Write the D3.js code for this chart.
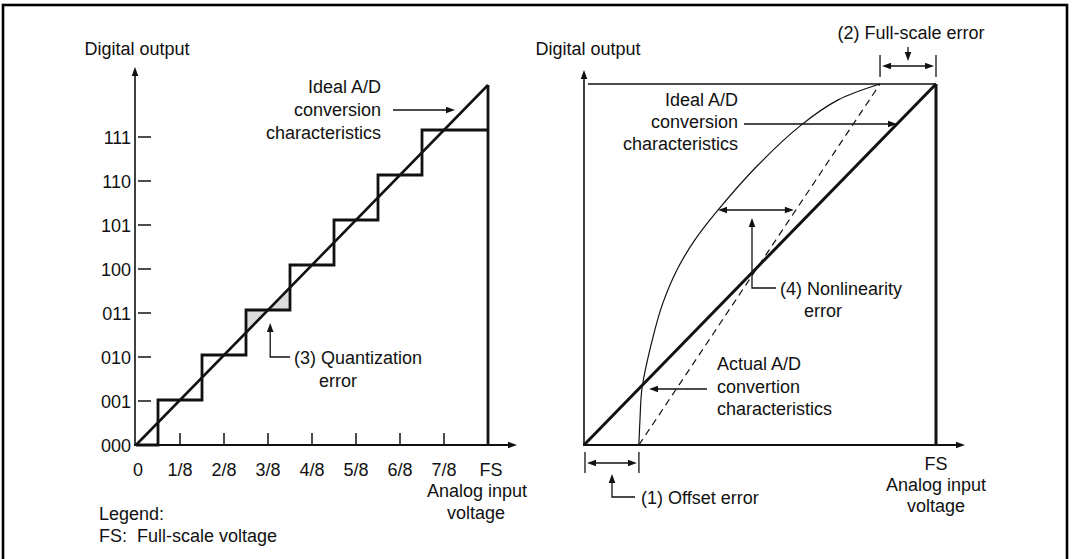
<!DOCTYPE html>
<html><head><meta charset="utf-8">
<script src="https://cdn.jsdelivr.net/npm/d3@7"></script>
<style>
body{margin:0;background:#fff}
svg text{font-family:"Liberation Sans",Arial,Helvetica,sans-serif;font-size:18px;fill:#111;white-space:pre}
</style>
</head><body><svg id="c" width="1074" height="559"></svg>
<script>
// ---------- data ----------
const codeLabels = ["000","001","010","011","100","101","110","111"];
const codeValues = [0,1,2,3,4,5,6,7];
const xTickLabels = ["0","1/8","2/8","3/8","4/8","5/8","6/8","7/8","FS"];
const xTickValues = [0,1,2,3,4,5,6,7,8];
const stepStart = [0.5,1.5,2.5,3.5,4.5,5.5,6.5];
const stepEnd   = [1.5,2.5,3.5,4.5,5.5,6.5,8];
const stepCode  = [1,2,3,4,5,6,7];
const idealLeftX = [0,8];
const idealLeftY = [0,8];
const quantTriX = [[2.5,2.5,3],[3,3.5,3.5]];
const quantTriY = [[2.5,3,3],[3,3,3.5]];

const idealRightX = [0,1];
const idealRightY = [0,1];
const actualX = [0.156,0.159,0.165,0.196,0.224,0.264,0.315,0.381,0.489,0.614,0.722,0.841];
const actualY = [0,0.069,0.158,0.299,0.393,0.485,0.568,0.651,0.770,0.884,0.956,1.0];
const offsetError = 0.156;
const fullScaleReach = 0.841;

// ---------- setup ----------
const svg = d3.select("#c");
svg.append("rect").attr("x",3).attr("y",5).attr("width",1064).attr("height",600)
  .attr("fill","none").attr("stroke","#000").attr("stroke-width",2.6);

const xL = d3.scaleLinear([0,8],[136,488]);
const yL = d3.scaleLinear([0,8],[445,85]);
const yLt = d3.scaleLinear([0,8],[445,93]);
const xR = d3.scaleLinear([0,1],[584,936]);
const yR = d3.scaleLinear([0,1],[445,84]);

function head(g,x,y,ang,len=9,half=3.3){
  const c=Math.cos(ang), s=Math.sin(ang);
  const bx=x-len*c, by=y-len*s;
  g.append("path").attr("d",`M${x},${y}L${bx-half*s},${by+half*c}L${bx+half*s},${by-half*c}Z`).attr("fill","#111");
}
function arrow(g,x1,y1,x2,y2,o={}){
  const w=o.w||1.3, st=!!o.start, en=o.end!==false;
  const ang=Math.atan2(y2-y1,x2-x1);
  const c=Math.cos(ang), s=Math.sin(ang);
  const ax1 = st? x1+6*c : x1, ay1 = st? y1+6*s : y1;
  const ax2 = en? x2-6*c : x2, ay2 = en? y2-6*s : y2;
  g.append("line").attr("x1",ax1).attr("y1",ay1).attr("x2",ax2).attr("y2",ay2)
    .attr("stroke","#111").attr("stroke-width",w);
  if(en) head(g,x2,y2,ang);
  if(st) head(g,x1,y1,ang+Math.PI);
}
function poly(g,pts,w,extra){
  const p=g.append("path").attr("d",d3.line()(pts)).attr("fill","none").attr("stroke","#111").attr("stroke-width",w).attr("stroke-linejoin","miter");
  if(extra) extra(p);
  return p;
}
function text(g,x,y,str,anchor="start"){
  return g.append("text").attr("x",x).attr("y",y).attr("text-anchor",anchor).text(str);
}

// ---------- left chart ----------
const L = svg.append("g");
quantTriX.forEach((xs,i)=>{
  const pts = xs.map((x,j)=>[xL(x),yL(quantTriY[i][j])]);
  L.append("path").attr("d",d3.line()(pts)+"Z").attr("fill","#dcdcdc").attr("stroke","none");
});
L.append("line").attr("x1",135).attr("y1",445).attr("x2",135).attr("y2",74).attr("stroke","#111").attr("stroke-width",1.6);
head(L,135,67,-Math.PI/2);
L.append("line").attr("x1",134).attr("y1",445).attr("x2",510).attr("y2",445).attr("stroke","#111").attr("stroke-width",2);
head(L,517,445,0);
L.selectAll(".yt").data(codeValues.slice(1)).join("line")
  .attr("x1",138).attr("x2",151).attr("y1",d=>yLt(d)).attr("y2",d=>yLt(d))
  .attr("stroke","#111").attr("stroke-width",1.5);
L.selectAll(".yl").data(codeValues).join("text")
  .attr("x",131).attr("y",d=>yLt(d)+6.5).attr("text-anchor","end").text(d=>codeLabels[d]);
L.selectAll(".xt").data(xTickValues.slice(1,8)).join("line")
  .attr("x1",d=>xL(d)).attr("x2",d=>xL(d)).attr("y1",433).attr("y2",445)
  .attr("stroke","#111").attr("stroke-width",1.5);
L.selectAll(".xl").data(xTickValues).join("text")
  .attr("x",d=>xL(d)+(d===0?2:0)+(d===8?3:0)).attr("y",475.5).attr("text-anchor","middle").text(d=>xTickLabels[d]);
const stair=[[xL(0),yL(0)]];
stepStart.forEach((s,i)=>{
  stair.push([xL(s),yL(stepCode[i]-1)]);
  stair.push([xL(s),yL(stepCode[i])]);
  stair.push([xL(stepEnd[i]),yL(stepCode[i])]);
});
poly(L,stair,2.8);
poly(L,[[xL(8),yL(0)],[xL(8),yL(8)]],2.8);
poly(L,idealLeftX.map((x,i)=>[xL(x),yL(idealLeftY[i])]),2.6);
text(L,137,55,"Digital output","middle");
text(L,381,93,"Ideal A/D","end");
text(L,381,116,"conversion","end");
text(L,381,139,"characteristics","end");
arrow(L,393,110,455,110);
poly(L,[[290,357],[xL(3.05),357],[xL(3.05),331]],1.3);
head(L,xL(3.05),323,-Math.PI/2);
text(L,294,364,"(3) Quantization");
text(L,319,387,"error");
text(L,477,496.5,"Analog input","middle");
text(L,476,519,"voltage","middle");
text(L,99,520,"Legend:");
text(L,99,542,"FS:  Full-scale voltage");

// ---------- right chart ----------
const R = svg.append("g");
R.append("line").attr("x1",584).attr("y1",445).attr("x2",584).attr("y2",77).attr("stroke","#111").attr("stroke-width",1.6);
head(R,584,70,-Math.PI/2);
R.append("line").attr("x1",583).attr("y1",445).attr("x2",958).attr("y2",445).attr("stroke","#111").attr("stroke-width",2);
head(R,965,445,0);
poly(R,[[xR(0)+4,yR(1)],[xR(1),yR(1)]],1.6);
R.append("path").attr("d",d3.line().curve(d3.curveCatmullRom.alpha(0.5))(actualX.map((x,i)=>[xR(x),yR(actualY[i])])))
  .attr("fill","none").attr("stroke","#111").attr("stroke-width",1.2);
poly(R,[[xR(offsetError),yR(0)],[xR(fullScaleReach),yR(1)]],1.2,p=>p.attr("stroke-dasharray","7,5"));
poly(R,idealRightX.map((x,i)=>[xR(x),yR(idealRightY[i])]),3);
poly(R,[[xR(1),yR(0)],[xR(1),yR(1)]],3);
text(R,588,55,"Digital output","middle");
text(R,911,39,"(2) Full-scale error","middle");
[xR(fullScaleReach),xR(1)].forEach(x=>R.append("line").attr("x1",x).attr("x2",x).attr("y1",55).attr("y2",77).attr("stroke","#111").attr("stroke-width",1.3));
arrow(R,xR(fullScaleReach)+2,66,xR(1)-2,66,{start:true});
arrow(R,908,47,908,61);
text(R,738,106,"Ideal A/D","end");
text(R,738,128,"conversion","end");
text(R,738,150,"characteristics","end");
arrow(R,744,124,xR(yR.invert(124)),124);
const nlY=210;
arrow(R,718,nlY,xR(offsetError+(fullScaleReach-offsetError)*yR.invert(nlY))-2,nlY,{start:true});
poly(R,[[776,288],[752,288],[752,226]],1.3);
head(R,752,218,-Math.PI/2);
text(R,780,295,"(4) Nonlinearity");
text(R,804,317,"error");
text(R,717,370,"Actual A/D");
text(R,717,393,"convertion");
text(R,717,415,"characteristics");
arrow(R,707,389,649,389);
[xR(0)+1,xR(offsetError)].forEach(x=>R.append("line").attr("x1",x).attr("x2",x).attr("y1",452).attr("y2",473).attr("stroke","#111").attr("stroke-width",1.3));
arrow(R,xR(0)+3,463,xR(offsetError)-2,463,{start:true});
poly(R,[[635,497],[612,497],[612,482]],1.3);
head(R,612,474,-Math.PI/2);
text(R,641,504,"(1) Offset error");
text(R,936,470,"FS","middle");
text(R,936,491,"Analog input","middle");
text(R,936,512,"voltage","middle");
</script>
</body></html>
